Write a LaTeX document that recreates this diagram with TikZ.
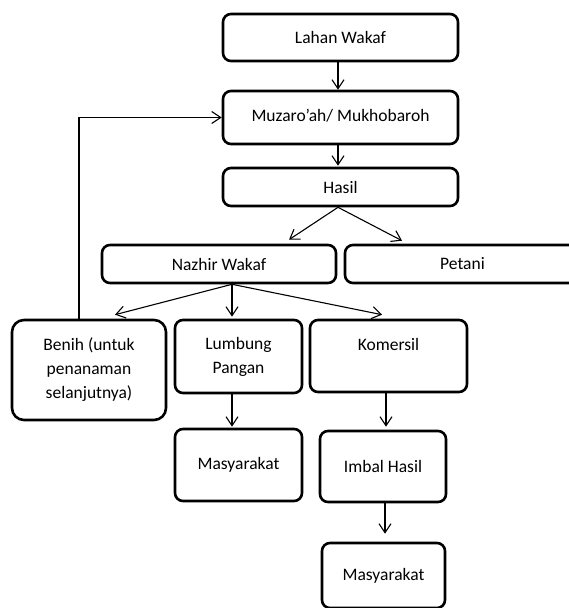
\documentclass[tikz,border=0pt]{standalone}
\usepackage{fontspec}
\setmainfont{Carlito}
\usetikzlibrary{arrows.meta}
\begin{document}
\begin{tikzpicture}[x=1pt,y=-1pt,
  box/.style={draw,line width=2.6pt,rounded corners=8pt,fill=white,align=center,inner sep=0pt,font=\fontsize{17.5}{24}\selectfont},
  sz/.style 2 args={minimum width=#1pt,minimum height=#2pt},
  conn/.style={line width=1.1pt,-{Straight Barb[length=9pt,width=12pt]}}]
\useasboundingbox (0,0) rectangle (569,608);
\clip (0,0) rectangle (569,608);
\node[box,sz={235}{47}] (lahan) at (340.5,37.5) {Lahan Wakaf};
\node[box,sz={235}{53}] (muzaro) at (340.5,117.5) {\raisebox{4pt}{Muzaro’ah/ Mukhobaroh}};
\node[box,sz={235}{38}] (hasil) at (340.5,187) {Hasil};
\node[box,sz={234}{38}] (nazhir) at (219,264) {Nazhir Wakaf};
\node[box,sz={235}{38}] (petani) at (462.5,264) {Petani};
\node[box,sz={154}{100},rounded corners=12pt] (benih) at (89,370) {Benih (untuk\\penanaman\\selanjutnya)};
\node[box,sz={127}{73}] (lumbung) at (238.5,356.5) {Lumbung\\Pangan};
\node[box,sz={157}{72}] (komersil) at (388.5,356) {Komersil\\\mbox{}};
\node[box,sz={127}{72}] (masy1) at (238.5,465) {Masyarakat};
\node[box,sz={126}{71}] (imbal) at (383,466.5) {Imbal Hasil};
\node[box,sz={123}{65}] (masy2) at (383.5,575.5) {Masyarakat};
\draw[conn] ([xshift=-2.5pt]lahan.south) -- ([xshift=-2.5pt]muzaro.north);
\draw[conn] ([xshift=-2.5pt]muzaro.south) -- ([xshift=-2.5pt,yshift=1pt]hasil.north);
\draw[conn] ([xshift=-2.5pt]hasil.south) -- ([xshift=70pt,yshift=4pt]nazhir.north);
\draw[conn] ([xshift=-2.5pt]hasil.south) -- ([xshift=-60.5pt,yshift=3pt]petani.north);
\draw[conn] ([xshift=13pt]nazhir.south) -- ([xshift=26pt,yshift=4pt]benih.north);
\draw[conn] ([xshift=13pt]nazhir.south) -- ([xshift=-6.5pt,yshift=2pt]lumbung.north);
\draw[conn] ([xshift=13pt]nazhir.south) -- ([xshift=-6.5pt,yshift=4pt]komersil.north);
\draw[conn] ([xshift=-6.5pt]lumbung.south) -- ([xshift=-6.5pt,yshift=1pt]masy1.north);
\draw[conn] ([xshift=-2.5pt]komersil.south) -- ([xshift=3pt,yshift=3pt]imbal.north);
\draw[conn] ([xshift=2pt]imbal.south) -- ([xshift=1.5pt,yshift=8pt]masy2.north);
\draw[conn] ([xshift=-10pt]benih.north) |- (muzaro.west);
\end{tikzpicture}
\end{document}
